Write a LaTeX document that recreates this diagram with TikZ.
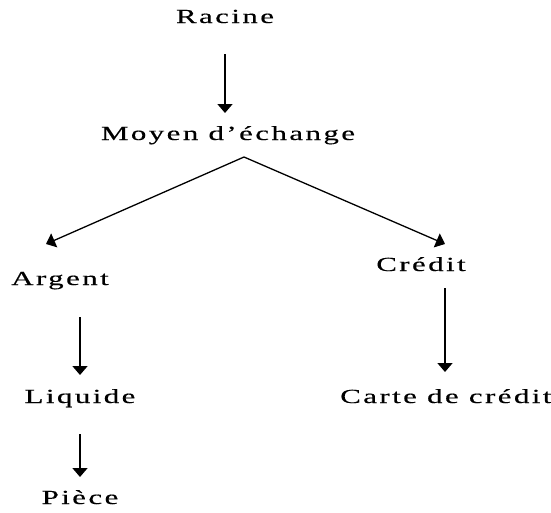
\documentclass[tikz,border=0pt]{standalone}
\usepackage{fontspec}
\setmainfont{Liberation Serif}
\usetikzlibrary{calc,arrows.meta}

\begin{document}
\begin{tikzpicture}[x=1pt,y=-1pt,
    mot/.style={font=\fontsize{20}{24}\selectfont\addfontfeatures{FakeStretch=1.55,LetterSpace=12,FakeBold=0.4},
      inner sep=0pt, anchor=base},
    fleche/.style={line width=1.5pt, -{Triangle[width=15pt,length=9pt]}}]
  % 固定画布大小
  \useasboundingbox (0,0) rectangle (551,512);

  % 绘制各个节点
  \node[mot] (racine)  at (225,23)  {Racine};
  \node[mot] (moyen)   at (228,140) {Moyen d’échange};
  \node[mot] (argent)  at (60,285)  {Argent};
  \node[mot] (liquide) at (80,403)  {Liquide};
  \node[mot] (piece)   at (80,504)  {Pièce};
  \node[mot] (credit)  at (421,271) {Crédit};
  \node[mot, anchor=base west] (carte) at (340,403) {Carte de crédit};

  % 分叉点和两个箭头终点
  \coordinate (split) at ($(moyen.base)+(16,17)$);
  \coordinate (tipA) at ($(argent.base)+(-14,-41)$);
  \coordinate (tipC) at ($(credit.base)+(24,-27)$);

  % 竖直箭头
  \draw[fleche] ($(racine.base)+(0,31)$) -- ($(racine.base |- moyen.base)+(0,-27)$);
  \draw[fleche] ($(argent.base -| liquide.base)+(0,32)$) -- ($(liquide.base)+(0,-28)$);
  \draw[fleche] ($(liquide.base)+(0,31)$) -- ($(piece.base)+(0,-27)$);
  \draw[fleche] ($(credit.base)+(24,17)$) -- ($(carte.base -| tipC)+(0,-31)$);

  % 斜向箭头
  \draw[fleche, line width=1.3pt] (split) -- (tipA);
  \draw[fleche, line width=1.3pt] (split) -- (tipC);
\end{tikzpicture}
\end{document}
